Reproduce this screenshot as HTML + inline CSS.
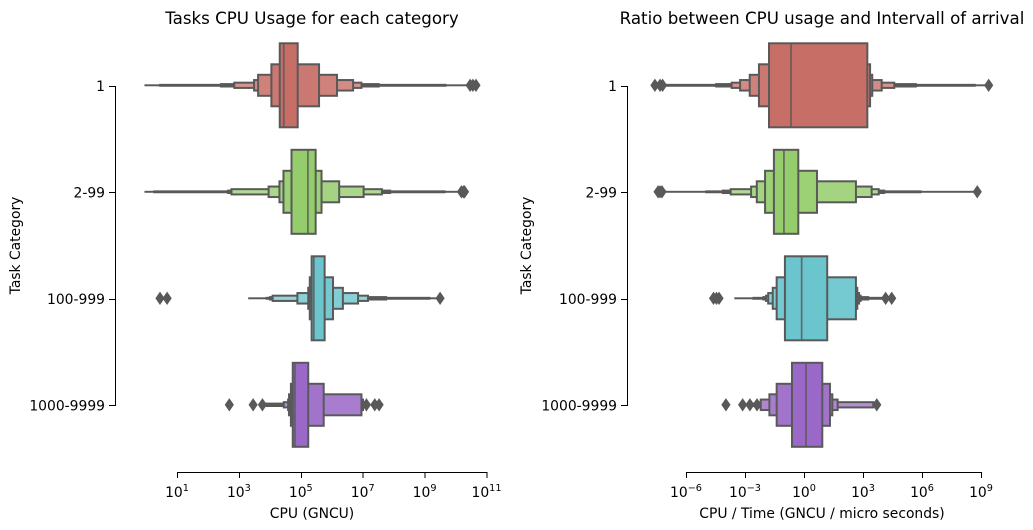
<!DOCTYPE html>
<html lang="en">
<head>
<meta charset="utf-8">
<title>Task CPU usage boxen plots</title>
<style>
html,body{margin:0;padding:0;background:#fff;width:1033px;height:530px;overflow:hidden}
svg{display:block}
text{font-family:"DejaVu Sans","Liberation Sans",sans-serif;fill:#000}
</style>
</head>
<body>
<svg id="chart" width="1033" height="530" viewBox="0 0 1033 530" xmlns="http://www.w3.org/2000/svg"></svg>
<script>
// Category labels
const categories = ["1", "2-99", "100-999", "1000-9999"];
const baseColors = ["#c76e67", "#95cd6c", "#6bc5cd", "#9a68c7"];

// Axis tick exponents (log10)
const cpuTicks = [1, 3, 5, 7, 9, 11];
const ratioTicks = [-6, -3, 0, 3, 6, 9];

// Left panel: letter-value box edges as log10(CPU), innermost box first
const cpuLow1 = [4.32, 4.05, 3.62, 3.49, 2.85, 2.42, 0.45, -0.03];
const cpuHigh1 = [4.90, 5.59, 6.17, 6.69, 6.96, 7.52, 9.68, 10.32];
const cpuLow2 = [4.70, 4.44, 4.31, 3.96, 2.76, 2.65, 0.26, -0.03];
const cpuHigh2 = [5.48, 5.67, 6.24, 7.03, 7.62, 7.89, 9.65, 10.10];
const cpuLow3 = [5.35, 5.29, 5.24, 4.89, 4.09, 4.00, 3.89, 3.32];
const cpuHigh3 = [5.77, 6.04, 6.36, 6.85, 7.17, 7.76, 9.16, 9.42];
const cpuLow4 = [4.74, 4.68, 4.62, 4.59, 4.45, 3.89];
const cpuHigh4 = [5.24, 5.74, 6.96, 7.01, 7.06, 7.10];
const cpuMedians = [4.45, 5.23, 5.42, 4.81];
const cpuOutliers1 = [10.47, 10.56, 10.66];
const cpuOutliers2 = [10.19, 10.26, 10.29];
const cpuOutliers3 = [0.45, 0.68, 9.50];
const cpuOutliers4 = [2.69, 3.46, 3.76, 7.12, 7.39, 7.53];

// Right panel: letter-value box edges as log10(CPU / time)
const ratioLow1 = [-1.78, -2.29, -2.76, -3.25, -3.68, -4.47, -7.02, -7.22];
const ratioHigh1 = [3.22, 3.36, 3.47, 3.95, 4.59, 5.69, 8.69, 9.30];
const ratioLow2 = [-1.53, -1.98, -2.40, -2.69, -3.73, -4.13, -4.98, -7.02];
const ratioHigh2 = [-0.29, 0.66, 2.64, 3.44, 3.80, 4.08, 5.93, 8.59];
const ratioLow3 = [-0.97, -1.39, -1.59, -1.82, -1.93, -2.07, -2.58, -3.51];
const ratioHigh3 = [1.18, 2.64, 2.71, 2.80, 2.88, 3.27, 3.95, 4.02];
const ratioLow4 = [-0.61, -1.39, -1.76, -2.20, -2.35, -2.75];
const ratioHigh4 = [0.93, 1.32, 1.44, 1.71, 3.52, 3.61];
const ratioMedians = [-0.66, -1.02, -0.12, 0.10];
const ratioOutliers1 = [-7.58, -7.32, -7.19, 9.39];
const ratioOutliers2 = [-7.42, -7.32, -7.22, 8.81];
const ratioOutliers3 = [-4.60, -4.45, -4.32, 4.15, 4.46];
const ratioOutliers4 = [-3.97, -3.12, -2.75, -2.39, 3.70];

const NS = "http://www.w3.org/2000/svg";
const svg = document.getElementById("chart");
const EDGE = "#595959";

function mk(tag, attrs, parent) {
  const el = document.createElementNS(NS, tag);
  for (const k in attrs) el.setAttribute(k, attrs[k]);
  parent.appendChild(el);
  return el;
}
function lighten(hex, t) {
  const n = parseInt(hex.slice(1), 16);
  const c = [n >> 16, (n >> 8) & 255, n & 255].map(v => Math.round(v + (255 - v) * t));
  return "rgb(" + c.join(",") + ")";
}
function yScale(i) { return 85.3 + i * 106.5; }

function drawPanel(p) {
  const xScale = e => p.x0 + (e - p.e0) * p.pxPerDecade;
  const g = mk("g", {}, svg);
  
  

  const title = mk("text", {x: p.center + 0.5, y: 24, "text-anchor": "middle", "font-size": "16.67"}, g);
  title.textContent = p.title;
  
  

  // marks
  categories.forEach((cat, i) => {
    const cy = yScale(i);
    const cg = mk("g", {}, g);
    
    

    const lows = p.lows[i], highs = p.highs[i];
    for (let k = lows.length - 1; k >= 0; k--) {
      const half = 42 / Math.pow(2, k);
      const x1 = xScale(lows[k]), x2 = xScale(highs[k]);
      const rect = mk("rect", {
        x: x1, y: cy - half, width: x2 - x1, height: half * 2,
        fill: k >= 5 ? EDGE : lighten(baseColors[i], [0, 0.07, 0.14, 0.2, 0.26][k]),
        stroke: EDGE, "stroke-width": [2, 2, 2, 2, 2, 1.8, 1.6, 1.3][k]
      }, cg);
      
      
    }

    const mx = xScale(p.medians[i]);
    const med = mk("line", {x1: mx, x2: mx, y1: cy - 42, y2: cy + 42, stroke: EDGE, "stroke-width": 1.7, "stroke-opacity": 0.85}, cg);
    
    

    p.outliers[i].forEach(v => {
      const ox = xScale(v);
      const d = mk("polygon", {points: [ox - 4, cy, ox, cy - 5.8, ox + 4, cy, ox, cy + 5.8].join(","), fill: EDGE, stroke: EDGE, "stroke-width": 1}, cg);
      
      
    });
  });

  // y axis
  const yAxis = mk("line", {x1: p.yAxisX + 0.5, x2: p.yAxisX + 0.5, y1: 86, y2: 406, stroke: "#000", "stroke-width": 1, "shape-rendering": "crispEdges"}, g);
  
  
  categories.forEach((cat, i) => {
    const ty = Math.round(yScale(i) + 0.3) + 0.5;
    const t = mk("line", {x1: p.yAxisX - 6, x2: p.yAxisX, y1: ty, y2: ty, stroke: "#000", "stroke-width": 1, "shape-rendering": "crispEdges"}, g);
    
    
    const l = mk("text", {x: p.yAxisX - 10, y: yScale(i) + 5.5, "text-anchor": "end", "font-size": "13.89"}, g);
    l.textContent = cat;
    
    
  });
  const yTitle = mk("text", {x: 0, y: 0, "text-anchor": "middle", "font-size": "13.89", transform: "translate(" + p.yTitleX + ",245.5) rotate(-90)"}, g);
  yTitle.textContent = "Task Category";
  
  

  // x axis
  const ax0 = xScale(p.ticks[0]), ax1 = xScale(p.ticks[p.ticks.length - 1]);
  const xAxis = mk("line", {x1: ax0, x2: ax1 + 1, y1: 472.5, y2: 472.5, stroke: "#000", "stroke-width": 1, "shape-rendering": "crispEdges"}, g);
  
  
  p.ticks.forEach(e => {
    const tx = xScale(e);
    const t = mk("line", {x1: tx + 0.5, x2: tx + 0.5, y1: 472, y2: 478, stroke: "#000", "stroke-width": 1, "shape-rendering": "crispEdges"}, g);
    
    
    const l = mk("text", {x: tx, y: 497, "text-anchor": "middle", "font-size": "13.89"}, g);
    
    
    const base = mk("tspan", {}, l);
    base.textContent = "10";
    const sup = mk("tspan", {dy: -6, "font-size": "9.7"}, l);
    sup.textContent = String(e).replace("-", "\u2212");
  });
  const xTitle = mk("text", {x: p.center + 0.5, y: 518, "text-anchor": "middle", "font-size": "13.89"}, g);
  xTitle.textContent = p.xTitle;
  
  
}

drawPanel({
  name: "cpu", title: "Tasks CPU Usage for each category", xTitle: "CPU (GNCU)",
  center: 311.5, yAxisX: 115, yTitleX: 20, x0: 177, e0: 1, pxPerDecade: 30.95,
  ticks: cpuTicks, medians: cpuMedians,
  lows: [cpuLow1, cpuLow2, cpuLow3, cpuLow4],
  highs: [cpuHigh1, cpuHigh2, cpuHigh3, cpuHigh4],
  outliers: [cpuOutliers1, cpuOutliers2, cpuOutliers3, cpuOutliers4]
});
drawPanel({
  name: "ratio", title: "Ratio between CPU usage and Intervall of arrival", xTitle: "CPU / Time (GNCU / micro seconds)",
  center: 821.5, yAxisX: 627, yTitleX: 531, x0: 686, e0: -6, pxPerDecade: 19.667,
  ticks: ratioTicks, medians: ratioMedians,
  lows: [ratioLow1, ratioLow2, ratioLow3, ratioLow4],
  highs: [ratioHigh1, ratioHigh2, ratioHigh3, ratioHigh4],
  outliers: [ratioOutliers1, ratioOutliers2, ratioOutliers3, ratioOutliers4]
});
</script>
</body>
</html>
